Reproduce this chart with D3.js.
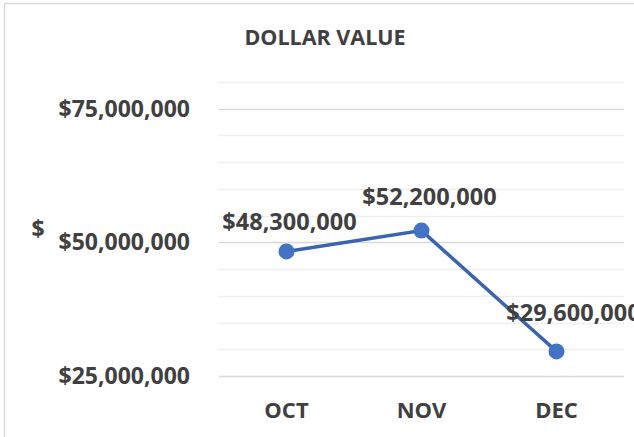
<!DOCTYPE html>
<html>
<head>
<meta charset="utf-8">
<script src="https://cdn.jsdelivr.net/npm/d3@7"></script>
<style>
  body { margin: 0; background: #fff; }
  text { font-family: "Open Sans", sans-serif; font-weight: bold; fill: #404040; }
</style>
</head>
<body>
<div id="chart-area"></div>
<script>
// data
var months = ["OCT", "NOV", "DEC"];
var dollars = [48300000, 52200000, 29600000];
var tickValues = [25000000, 50000000, 75000000];
var minorTicks = d3.range(25000000, 80000001, 5000000);

// label nudges (Excel labels were moved by hand)
var labelDx = [3, 8, 17];
var labelDy = [-21, -26, -30];

var W = 634, H = 437;
var margin = {left: 219, right: 10, top: 82, bottom: 61};
var width = 624 - margin.left;
var height = 376 - margin.top;

var svg = d3.select("#chart-area").append("svg")
    .attr("width", W)
    .attr("height", H);

// chart area border
svg.append("rect")
    .attr("x", 4.5).attr("y", 3.5)
    .attr("width", 700).attr("height", 600)
    .attr("fill", "none")
    .attr("stroke", "#d9d9d9")
    .attr("stroke-width", 1.5);

var g = svg.append("g")
    .attr("transform", "translate(" + margin.left + "," + margin.top + ")");

var x = d3.scaleBand()
    .domain(months)
    .range([0, width]);

var y = d3.scaleLinear()
    .domain([25000000, 80000000])
    .range([height, 0]);

// gridlines
g.selectAll(".grid")
    .data(minorTicks)
    .enter().append("line")
    .attr("class", "grid")
    .attr("x1", 0).attr("x2", width)
    .attr("y1", d => Math.round(y(d)) + 0.5)
    .attr("y2", d => Math.round(y(d)) + 0.5)
    .attr("stroke", d => tickValues.indexOf(d) >= 0 ? "#d9d9d9" : "#eeeeee")
    .attr("stroke-width", 1.5);

// y axis labels
var leftAxis = d3.axisLeft(y)
    .tickValues(tickValues)
    .tickSize(0)
    .tickPadding(29)
    .tickFormat(d3.format("$,.0f"));

var yAxis = g.append("g").call(leftAxis);
yAxis.select(".domain").remove();
yAxis.selectAll("text")
    .style("font-family", "'Open Sans', sans-serif")
    .style("font-weight", "bold")
    .style("font-size", "23px")
    .attr("fill", "#404040");

// x axis labels
var bottomAxis = d3.axisBottom(x)
    .tickSize(0)
    .tickPadding(26);

var xAxis = g.append("g")
    .attr("transform", "translate(0," + height + ")")
    .call(bottomAxis);
xAxis.select(".domain").remove();
xAxis.selectAll("text")
    .style("font-family", "'Open Sans', sans-serif")
    .style("font-weight", "bold")
    .style("font-size", "22px")
    .attr("fill", "#404040");

// title
svg.append("text")
    .attr("x", 325)
    .attr("y", 45)
    .attr("text-anchor", "middle")
    .attr("font-size", "21.5px")
    .text("DOLLAR VALUE");

// y axis title
svg.append("text")
    .attr("x", 38)
    .attr("y", margin.top + height / 2 + 8)
    .attr("text-anchor", "middle")
    .attr("font-size", "23px")
    .text("$");

// line
var line = d3.line()
    .x((d, i) => x(months[i]) + x.bandwidth() / 2)
    .y(d => y(d));

g.append("path")
    .datum(dollars)
    .attr("fill", "none")
    .attr("stroke", "#3a64b0")
    .attr("stroke-width", 3.5)
    .attr("d", line);

g.selectAll(".dot")
    .data(dollars)
    .enter().append("circle")
    .attr("class", "dot")
    .attr("cx", (d, i) => x(months[i]) + x.bandwidth() / 2)
    .attr("cy", d => y(d))
    .attr("r", 8)
    .attr("fill", "#4472c4");

// data labels
g.selectAll(".lbl")
    .data(dollars)
    .enter().append("text")
    .attr("class", "lbl")
    .attr("x", (d, i) => x(months[i]) + x.bandwidth() / 2 + labelDx[i])
    .attr("y", (d, i) => y(d) + labelDy[i])
    .attr("text-anchor", "middle")
    .attr("font-size", "23.5px")
    .text(d => d3.format("$,.0f")(d));
</script>
</body>
</html>
